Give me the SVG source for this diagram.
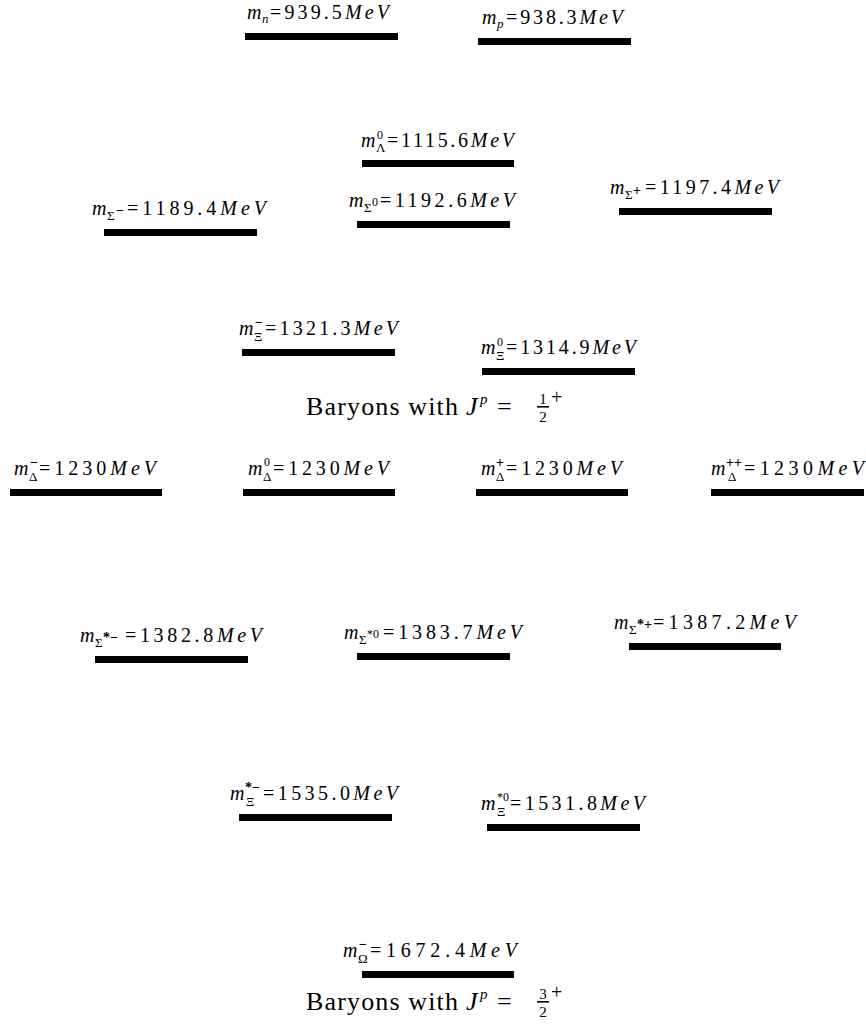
<svg xmlns="http://www.w3.org/2000/svg" width="866" height="1031" viewBox="0 0 866 1031">
  <style>
    text { font-family: "Liberation Serif", "Times New Roman", serif; fill: #000; }
    .m { font-size: 20px; font-style: italic; }
    .v { font-size: 20px; }
    .i { font-style: italic; }
    .s { font-size: 13px; }
    .si { font-size: 13px; font-style: italic; }
    .ss { font-size: 12px; }
    .mi { font-size: 14px; font-weight: bold; }
    .t { font-size: 26px; }
    .fr { font-size: 15px; }
    .pl { font-size: 20px; }
    .bar { fill: #000; }
  </style>
  <rect width="866" height="1031" fill="#fff"/>

  <!-- J^p = 1/2+ octet -->
  <g id="neutron">
    <text class="m" x="247" y="19">m</text>
    <text class="si" x="262" y="23">n</text>
    <text class="v" x="270" y="19" textLength="119" lengthAdjust="spacing">=939.5<tspan class="i">MeV</tspan></text>
    <rect class="bar" x="245" y="33" width="153" height="7"/>
  </g>
  <g id="proton">
    <text class="m" x="482" y="24">m</text>
    <text class="si" x="497" y="28">p</text>
    <text class="v" x="506" y="24" textLength="117" lengthAdjust="spacing">=938.3<tspan class="i">MeV</tspan></text>
    <rect class="bar" x="478" y="38" width="153" height="7"/>
  </g>
  <g id="lambda0">
    <text class="m" x="361" y="147">m</text>
    <text class="ss" x="377" y="139">0</text>
    <text class="s" x="376" y="152">Λ</text>
    <text class="v" x="387" y="147" textLength="127" lengthAdjust="spacing">=1115.6<tspan class="i">MeV</tspan></text>
    <rect class="bar" x="362" y="160" width="152" height="7"/>
  </g>
  <g id="sigma-minus">
    <text class="m" x="92" y="215">m</text>
    <text class="s" x="107" y="220">Σ</text>
    <text class="mi" x="116" y="215">−</text>
    <text class="v" x="127" y="215" textLength="139" lengthAdjust="spacing">=1189.4<tspan class="i">MeV</tspan></text>
    <rect class="bar" x="104" y="229" width="153" height="7"/>
  </g>
  <g id="sigma0">
    <text class="m" x="349" y="207">m</text>
    <text class="s" x="364" y="212">Σ</text>
    <text class="ss" x="372" y="206">0</text>
    <text class="v" x="380" y="207" textLength="135" lengthAdjust="spacing">=1192.6<tspan class="i">MeV</tspan></text>
    <rect class="bar" x="357" y="221" width="153" height="7"/>
  </g>
  <g id="sigma-plus">
    <text class="m" x="610" y="194">m</text>
    <text class="s" x="625" y="199">Σ</text>
    <text class="mi" x="633" y="195">+</text>
    <text class="v" x="645" y="194" textLength="134" lengthAdjust="spacing">=1197.4<tspan class="i">MeV</tspan></text>
    <rect class="bar" x="619" y="208" width="153" height="7"/>
  </g>
  <g id="xi-minus">
    <text class="m" x="239" y="335">m</text>
    <text class="mi" x="255" y="327">−</text>
    <text class="s" x="254" y="341">Ξ</text>
    <text class="v" x="265" y="335" textLength="133" lengthAdjust="spacing">=1321.3<tspan class="i">MeV</tspan></text>
    <rect class="bar" x="242" y="349" width="153" height="7"/>
  </g>
  <g id="xi0">
    <text class="m" x="481" y="354">m</text>
    <text class="ss" x="497" y="346">0</text>
    <text class="s" x="496" y="360">Ξ</text>
    <text class="v" x="506" y="354" textLength="130" lengthAdjust="spacing">=1314.9<tspan class="i">MeV</tspan></text>
    <rect class="bar" x="482" y="368" width="153" height="7"/>
  </g>
  <g id="title-half">
    <text class="t" x="306" y="415" textLength="152" lengthAdjust="spacing">Baryons with</text>
    <text class="t i" x="466" y="415">J</text>
    <text class="fr i" x="480" y="404">p</text>
    <text class="t" x="497" y="415">=</text>
    <text class="fr" x="543" y="404" text-anchor="middle">1</text>
    <rect class="bar" x="537" y="406" width="12" height="1.6"/>
    <text class="fr" x="543" y="422" text-anchor="middle">2</text>
    <text class="pl" x="551" y="404">+</text>
  </g>

  <!-- J^p = 3/2+ decuplet -->
  <g id="delta-minus">
    <text class="m" x="14" y="475">m</text>
    <text class="mi" x="30" y="467">−</text>
    <text class="s" x="29" y="481">Δ</text>
    <text class="v" x="39" y="475" textLength="117" lengthAdjust="spacing">=1230<tspan class="i">MeV</tspan></text>
    <rect class="bar" x="10" y="489" width="152" height="7"/>
  </g>
  <g id="delta0">
    <text class="m" x="248" y="475">m</text>
    <text class="ss" x="264" y="466">0</text>
    <text class="s" x="263" y="481">Δ</text>
    <text class="v" x="273" y="475" textLength="116" lengthAdjust="spacing">=1230<tspan class="i">MeV</tspan></text>
    <rect class="bar" x="243" y="489" width="152" height="7"/>
  </g>
  <g id="delta-plus">
    <text class="m" x="481" y="475">m</text>
    <text class="mi" x="496" y="467">+</text>
    <text class="s" x="496" y="481">Δ</text>
    <text class="v" x="506" y="475" textLength="116" lengthAdjust="spacing">=1230<tspan class="i">MeV</tspan></text>
    <rect class="bar" x="476" y="489" width="152" height="7"/>
  </g>
  <g id="delta-plusplus">
    <text class="m" x="711" y="475">m</text>
    <text class="mi" x="726" y="467">++</text>
    <text class="s" x="728" y="481">Δ</text>
    <text class="v" x="744" y="475" textLength="120" lengthAdjust="spacing">=1230<tspan class="i">MeV</tspan></text>
    <rect class="bar" x="711" y="489" width="153" height="7"/>
  </g>
  <g id="sigmastar-minus">
    <text class="m" x="80" y="642">m</text>
    <text class="s" x="95" y="647">Σ</text>
    <text class="mi" x="103" y="642">*−</text>
    <text class="v" x="125" y="642" textLength="137" lengthAdjust="spacing">=1382.8<tspan class="i">MeV</tspan></text>
    <rect class="bar" x="95" y="656" width="153" height="7"/>
  </g>
  <g id="sigmastar0">
    <text class="m" x="344" y="639">m</text>
    <text class="s" x="359" y="644">Σ</text>
    <text class="ss" x="367" y="638">*0</text>
    <text class="v" x="383" y="639" textLength="139" lengthAdjust="spacing">=1383.7<tspan class="i">MeV</tspan></text>
    <rect class="bar" x="357" y="653" width="153" height="7"/>
  </g>
  <g id="sigmastar-plus">
    <text class="m" x="614" y="629">m</text>
    <text class="s" x="629" y="634">Σ</text>
    <text class="mi" x="637" y="629">*+</text>
    <text class="v" x="653" y="629" textLength="143" lengthAdjust="spacing">=1387.2<tspan class="i">MeV</tspan></text>
    <rect class="bar" x="629" y="643" width="152" height="7"/>
  </g>
  <g id="xistar-minus">
    <text class="m" x="230" y="800">m</text>
    <text class="mi" x="245" y="792">*−</text>
    <text class="s" x="246" y="806">Ξ</text>
    <text class="v" x="263" y="800" textLength="135" lengthAdjust="spacing">=1535.0<tspan class="i">MeV</tspan></text>
    <rect class="bar" x="239" y="814" width="153" height="7"/>
  </g>
  <g id="xistar0">
    <text class="m" x="481" y="810">m</text>
    <text class="ss" x="497" y="801">*0</text>
    <text class="s" x="497" y="816">Ξ</text>
    <text class="v" x="510" y="810" textLength="135" lengthAdjust="spacing">=1531.8<tspan class="i">MeV</tspan></text>
    <rect class="bar" x="487" y="824" width="153" height="7"/>
  </g>
  <g id="omega-minus">
    <text class="m" x="343" y="957">m</text>
    <text class="mi" x="359" y="949">−</text>
    <text class="s" x="358" y="963">Ω</text>
    <text class="v" x="370" y="957" textLength="147" lengthAdjust="spacing">=1672.4<tspan class="i">MeV</tspan></text>
    <rect class="bar" x="362" y="971" width="152" height="7"/>
  </g>
  <g id="title-three-halves">
    <text class="t" x="306" y="1010" textLength="152" lengthAdjust="spacing">Baryons with</text>
    <text class="t i" x="466" y="1010">J</text>
    <text class="fr i" x="480" y="999">p</text>
    <text class="t" x="497" y="1010">=</text>
    <text class="fr" x="543" y="999" text-anchor="middle">3</text>
    <rect class="bar" x="537" y="1001" width="12" height="1.6"/>
    <text class="fr" x="543" y="1017" text-anchor="middle">2</text>
    <text class="pl" x="551" y="999">+</text>
  </g>
</svg>
